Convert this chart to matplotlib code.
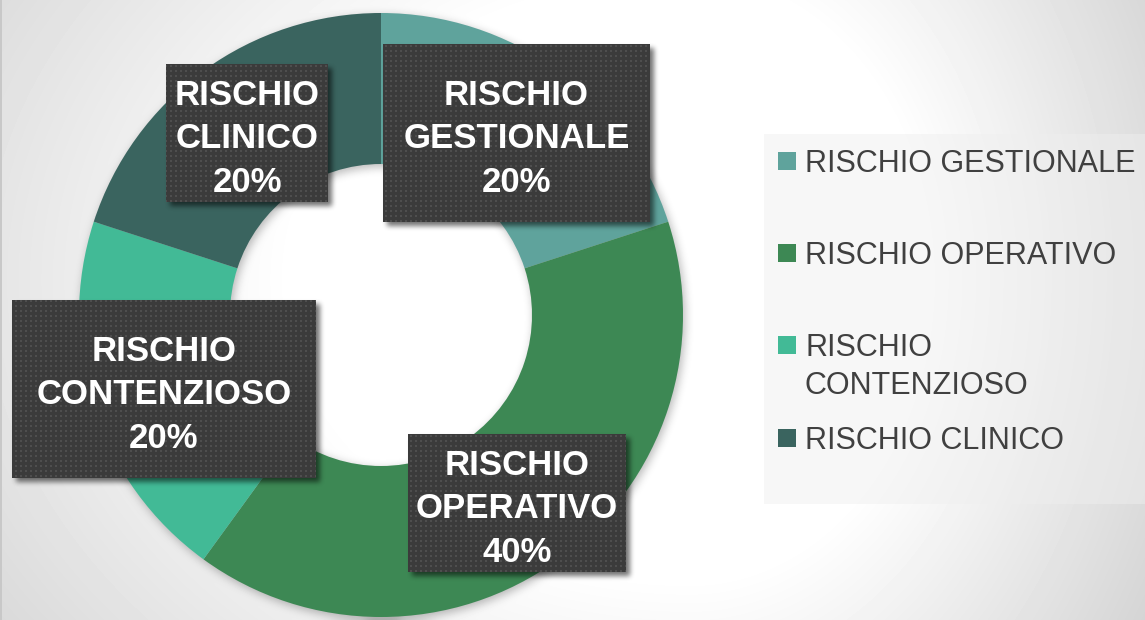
import numpy as np
import matplotlib
matplotlib.use('Agg')
import matplotlib.pyplot as plt
from matplotlib.patches import Rectangle

# data
categories = ['RISCHIO GESTIONALE', 'RISCHIO OPERATIVO', 'RISCHIO CONTENZIOSO', 'RISCHIO CLINICO']
values = [20, 40, 20, 20]
colors = ['#5fa39c', '#3d8854', '#42ba96', '#3a645f']
box_labels = ['RISCHIO\nGESTIONALE', 'RISCHIO\nOPERATIVO', 'RISCHIO\nCONTENZIOSO', 'RISCHIO\nCLINICO']
legend_labels = ['RISCHIO GESTIONALE', 'RISCHIO OPERATIVO', 'RISCHIO\nCONTENZIOSO', 'RISCHIO CLINICO']

# layout (pixels, y from top)
W, H = 1145, 620
cx, cy, R = 381, 315, 302
# label boxes: x0, y0, x1, y1
boxes = [(383, 44, 650, 222), (408, 434, 626, 572), (12, 300, 316, 478), (166, 64, 328, 202)]

plt.rcParams['font.family'] = ['Liberation Sans', 'DejaVu Sans']


def box_blur(a, k, times=3):
    n = 2 * k + 1
    for _ in range(times):
        for axis in (0, 1):
            p = np.pad(a, [(k + 1, k) if i == axis else (0, 0) for i in range(2)], mode='edge')
            c = np.cumsum(p, axis=axis)
            a = (c[n:] - c[:-n]) / n if axis == 0 else (c[:, n:] - c[:, :-n]) / n
    return a


yy, xx = np.mgrid[0:H, 0:W] + 0.5

# background gradient
dx = xx - 690
dx = np.where(dx < 0, dx * 0.6, dx)
dy = (yy - 280) * 0.8
d = np.hypot(dx, dy)
bg = 255 - 0.145 * np.clip(d - 238, 0, None)
bg[:, :2] = 200

# donut shadow
r = np.hypot(xx - (cx + 2), yy - (cy + 3))
ring = ((r <= R) & (r >= R * 0.5)).astype(float)
bg = bg * (1 - 0.28 * box_blur(ring, 4))
bg = np.clip(bg / 255, 0, 1)

fig = plt.figure(figsize=(W / 100, H / 100), dpi=100)

ax_bg = fig.add_axes([0, 0, 1, 1], zorder=0)
ax_bg.imshow(bg, cmap='gray', vmin=0, vmax=1, extent=(0, W, H, 0), interpolation='nearest')
ax_bg.set_xlim(0, W)
ax_bg.set_ylim(H, 0)
ax_bg.axis('off')

# donut
ax = fig.add_axes([(cx - R) / W, (H - cy - R) / H, 2 * R / W, 2 * R / H], zorder=1)
ax.pie(values, colors=colors, startangle=90, counterclock=False, radius=1,
       wedgeprops=dict(width=0.5, linewidth=0))
ax.set_xlim(-1, 1)
ax.set_ylim(-1, 1)
ax.axis('off')

# overlay for labels and legend
ov = fig.add_axes([0, 0, 1, 1], zorder=2)
ov.patch.set_visible(False)
ov.set_xlim(0, W)
ov.set_ylim(H, 0)
ov.axis('off')

# box shadows
sh = np.zeros((H, W))
for x0, y0, x1, y1 in boxes:
    sh[y0 + 4:y1 + 4, x0 + 4:x1 + 4] = 1
sh = box_blur(sh, 2)
shadow = np.zeros((H, W, 4))
shadow[..., 3] = 0.55 * sh
ov.imshow(shadow, extent=(0, W, H, 0), interpolation='nearest')

total = sum(values)
for (x0, y0, x1, y1), lab, v in zip(boxes, box_labels, values):
    py, px = np.mgrid[y0:y1, x0:x1]
    dots = ((px % 5) < 2) & ((py % 5) < 2)
    img = np.where(dots, 0x4e, 0x3b)[..., None].repeat(3, axis=2) / 255
    ov.imshow(img, extent=(x0, x1, y1, y0), interpolation='nearest')
    ov.text((x0 + x1) / 2, (y0 + y1) / 2 + 6, f'{lab}\n{v / total * 100:.0f}%',
            ha='center', va='center', color='white', fontsize=25, fontweight='bold',
            linespacing=1.42)

# legend
lg = np.zeros((504 - 134, W - 764, 4))
lg[..., :3] = 0xef / 255
lg[..., 3] = 0.5
ov.imshow(lg, extent=(764, W, 504, 134), interpolation='nearest')
ly0, lstep = 160.5, 92.4
for i, (lab, col) in enumerate(zip(legend_labels, colors)):
    yc = ly0 + i * lstep
    ov.add_patch(Rectangle((778, yc - 9), 18, 18, facecolor=col, edgecolor='none'))
    for j, line in enumerate(lab.split('\n')):
        ov.text(805, yc + 11 + j * 38, line, ha='left', va='baseline',
                color='#404040', fontsize=22)

ov.set_xlim(0, W)
ov.set_ylim(H, 0)

fig.savefig('out.png', dpi=100)
